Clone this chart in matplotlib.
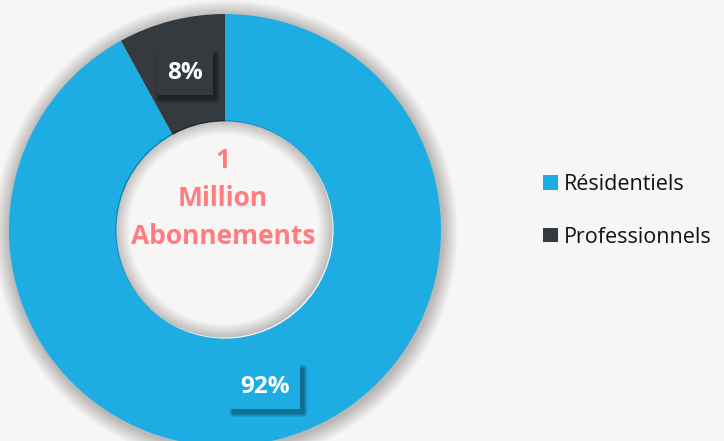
import numpy as np
import matplotlib
matplotlib.use("Agg")
import matplotlib.pyplot as plt
from matplotlib.patches import Circle, Wedge, FancyBboxPatch

categories = ["Résidentiels", "Professionnels"]
values = [92, 8]
colors = ["#1EADE3", "#343A3E"]
center_lines = ["1", "Million", "Abonnements"]

BG = "#F7F6F4"
W, H = 724, 441
fig = plt.figure(figsize=(W / 100, H / 100), dpi=100, facecolor=BG)
ax = fig.add_axes([0, 0, 1, 1])
ax.set_facecolor(BG)

cx, cy = 225, H - 230
R = 216
ring_w = 0.5
FONT = "Open Sans"

# soft outer shadow
for i in range(16):
    r = R + 16 - i
    ax.add_patch(Circle((cx + 1, cy - 2), r, color="#000000", alpha=0.014, lw=0, zorder=1))

wedges, _ = ax.pie(values, colors=colors, startangle=90, counterclock=False,
                   radius=R, center=(cx, cy), frame=True,
                   wedgeprops=dict(width=R * ring_w, linewidth=0, zorder=2))
ax.set_xlim(0, W)
ax.set_ylim(0, H)
ax.set_aspect("equal")
ax.axis("off")

# inner shadow in the hole
r_in = R * (1 - ring_w)
ax.add_patch(Circle((cx, cy), r_in + 0.6, color=BG, lw=0, zorder=3))
for i in range(14):
    ax.add_patch(Wedge((cx - 1, cy + 1), r_in + 0.6, 0, 360, width=14 - i,
                       color="#000000", alpha=0.016, lw=0, zorder=4))

# percentage labels
texts = []
for w, v in zip(wedges, values):
    ang = np.deg2rad((w.theta1 + w.theta2) / 2)
    x = cx + 0.75 * R * np.cos(ang)
    y = cy + 0.75 * R * np.sin(ang)
    t = ax.text(x, y, f"{v}%", ha="center", va="center", color="white",
                fontsize=17.5, fontweight="bold", family=FONT, zorder=7,
                bbox=dict(boxstyle="square,pad=0.42", fc=w.get_facecolor(), ec="none"))
    texts.append(t)

fig.canvas.draw()
inv = ax.transData.inverted()
for t in texts:
    bb = t.get_bbox_patch().get_window_extent()
    (x0, y0), (x1, y1) = inv.transform([[bb.x0, bb.y0], [bb.x1, bb.y1]])
    for k in range(8):
        g = 8 - k
        ax.add_patch(FancyBboxPatch((x0 + 3 - g / 2, y0 - 4 - g / 2),
                                    (x1 - x0) + g, (y1 - y0) + g,
                                    boxstyle="round,pad=0,rounding_size=%g" % (g / 2 + 0.5),
                                    fc="black", ec="none", alpha=0.05, zorder=5))

# center text
ys = [H - 160, H - 199, H - 237]
for line, y in zip(center_lines, ys):
    ax.text(cx - 2, y, line, ha="center", va="center", color="#FF7C80",
            fontsize=19, fontweight="bold", family=FONT, zorder=6)

leg = ax.legend(wedges, categories, loc="center left",
                bbox_to_anchor=(543 / W, 1 - 211 / H), frameon=False,
                prop=dict(family=FONT, size=15.5), handlelength=0.68, handleheight=0.68,
                handletextpad=0.3, labelspacing=1.45, borderpad=0, borderaxespad=0)
for txt in leg.get_texts():
    txt.set_color("#111111")

fig.savefig("out.png", dpi=100, facecolor=BG)
